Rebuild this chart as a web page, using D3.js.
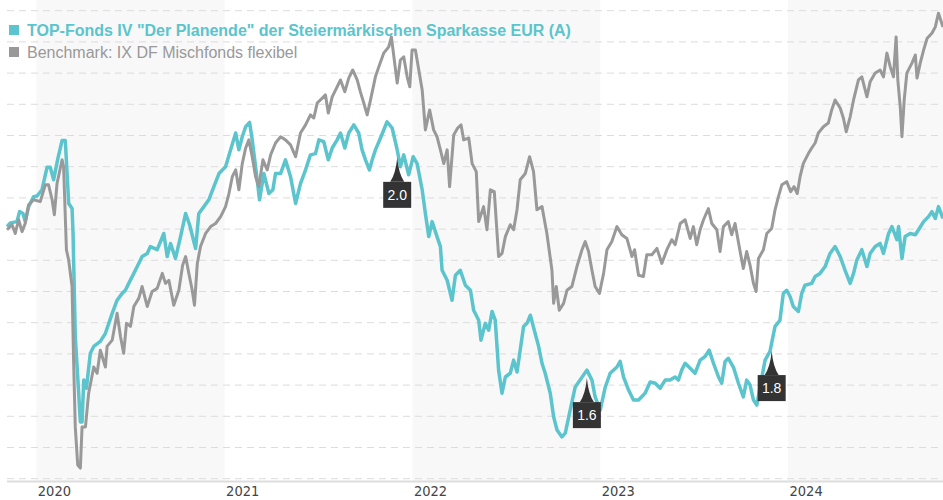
<!DOCTYPE html>
<html>
<head>
<meta charset="utf-8">
<script src="https://cdn.jsdelivr.net/npm/d3@7"></script>
<style>
  body { margin: 0; background: #fff; }
  svg { display: block; font-family: "Liberation Sans", Arial, sans-serif; }
</style>
</head>
<body>
<svg id="chart" width="943" height="500"></svg>
<script>
// ******************** Data ************************
// dates as decimal years, values as an index (no y labels in the original)
var fundT = [2019.844,2019.862,2019.897,2019.911,2019.929,2019.941,2019.959,2019.986,2020.004,2020.030,
  2020.057,2020.074,2020.092,2020.113,2020.137,2020.154,2020.172,2020.190,2020.195,2020.207,
  2020.225,2020.234,2020.243,2020.252,2020.266,2020.287,2020.305,2020.340,2020.367,2020.403,
  2020.429,2020.456,2020.473,2020.491,2020.518,2020.536,2020.562,2020.589,2020.606,2020.642,
  2020.677,2020.695,2020.713,2020.739,2020.766,2020.793,2020.814,2020.846,2020.863,2020.890,
  2020.916,2020.943,2020.970,2021.005,2021.032,2021.059,2021.076,2021.094,2021.112,2021.133,
  2021.147,2021.165,2021.186,2021.209,2021.236,2021.257,2021.271,2021.298,2021.324,2021.351,
  2021.378,2021.404,2021.431,2021.457,2021.484,2021.502,2021.528,2021.552,2021.573,2021.599,
  2021.617,2021.640,2021.661,2021.688,2021.714,2021.732,2021.750,2021.771,2021.786,2021.803,
  2021.830,2021.865,2021.892,2021.919,2021.936,2021.954,2021.980,2022.004,2022.025,2022.052,
  2022.069,2022.087,2022.105,2022.131,2022.149,2022.158,2022.185,2022.211,2022.229,2022.255,
  2022.282,2022.309,2022.326,2022.353,2022.365,2022.388,2022.406,2022.424,2022.441,2022.459,
  2022.477,2022.495,2022.521,2022.539,2022.557,2022.592,2022.610,2022.628,2022.649,2022.672,
  2022.690,2022.707,2022.734,2022.752,2022.770,2022.796,2022.814,2022.840,2022.867,2022.929,
  2022.956,2022.973,2023.000,2023.027,2023.053,2023.089,2023.106,2023.124,2023.151,2023.177,
  2023.204,2023.239,2023.266,2023.293,2023.319,2023.346,2023.372,2023.399,2023.416,2023.434,
  2023.452,2023.479,2023.505,2023.532,2023.559,2023.580,2023.603,2023.630,2023.647,2023.665,
  2023.682,2023.709,2023.736,2023.762,2023.780,2023.798,2023.816,2023.834,2023.851,2023.878,
  2023.904,2023.931,2023.957,2023.975,2023.993,2024.011,2024.028,2024.055,2024.073,2024.090,
  2024.126,2024.144,2024.170,2024.197,2024.223,2024.250,2024.277,2024.303,2024.330,2024.348,
  2024.365,2024.392,2024.419,2024.436,2024.463,2024.489,2024.507,2024.534,2024.552,2024.578,
  2024.587,2024.605,2024.622,2024.649,2024.676,2024.693,2024.720,2024.746,2024.764,2024.782,
  2024.799,2024.823];
var fundV = [100.4,101.0,101.2,102.8,102.5,101.2,103.6,105.2,105.3,106.3,
  109.9,109.9,107.9,111.1,114.2,114.2,104.1,103.3,99.4,82.8,
  73.7,69.1,69.1,75.8,74.5,80.1,81.2,82.0,83.3,86.5,
  88.6,89.7,90.2,91.3,92.9,94.0,95.6,96.1,97.2,96.7,
  99.3,95.6,97.7,95.3,98.8,102.5,100.7,96.9,102.5,103.6,
  104.7,106.8,108.9,110.0,112.7,115.4,112.7,114.8,116.4,117.1,
  114.3,110.0,104.7,108.9,105.7,106.3,108.9,108.9,111.1,108.4,
  104.1,107.3,109.5,111.9,112.1,114.3,114.0,111.1,113.0,114.3,
  115.4,113.0,115.4,116.7,115.4,112.7,111.1,109.5,111.1,112.7,
  114.6,117.2,116.2,112.7,110.0,111.9,108.7,111.6,110.5,106.3,
  102.5,98.8,101.2,98.8,97.2,93.4,91.8,88.6,92.6,93.4,
  91.0,90.2,87.0,85.4,82.2,84.9,83.8,86.8,85.4,77.4,
  73.7,76.3,76.9,79.0,77.1,84.4,84.9,86.2,83.8,81.2,
  78.5,76.9,73.7,69.9,67.8,66.7,67.3,71.0,74.7,77.4,
  75.8,73.1,71.0,74.7,76.9,77.9,78.8,76.3,74.2,72.6,
  72.6,73.7,75.5,75.3,74.5,75.8,75.8,76.3,75.8,77.4,
  78.5,77.7,76.9,79.0,79.6,80.6,78.5,76.3,75.3,78.8,
  79.3,77.9,75.3,73.1,75.8,75.0,72.6,71.8,74.7,79.0,
  80.4,84.4,85.4,89.7,90.2,89.2,87.6,86.8,89.7,91.0,
  91.3,92.4,92.9,94.0,96.1,97.2,95.6,93.4,91.3,92.9,
  95.0,96.7,94.0,96.1,97.2,97.7,96.1,99.3,100.4,98.3,
  100.4,95.3,98.8,99.3,99.1,99.9,101.2,102.0,102.8,101.7,
  103.6,101.7];

var benchT = [2019.844,2019.871,2019.888,2019.906,2019.924,2019.941,2019.959,2019.986,2020.021,2020.048,
  2020.065,2020.084,2020.096,2020.110,2020.137,2020.145,2020.160,2020.172,2020.190,2020.198,
  2020.207,2020.220,2020.234,2020.243,2020.261,2020.278,2020.305,2020.323,2020.340,2020.367,
  2020.376,2020.403,2020.429,2020.447,2020.464,2020.479,2020.500,2020.518,2020.544,2020.562,
  2020.589,2020.615,2020.642,2020.669,2020.686,2020.704,2020.730,2020.757,2020.777,2020.793,
  2020.810,2020.828,2020.840,2020.855,2020.872,2020.899,2020.926,2020.952,2020.979,2021.005,
  2021.023,2021.041,2021.059,2021.076,2021.094,2021.112,2021.129,2021.147,2021.165,2021.182,
  2021.204,2021.227,2021.245,2021.271,2021.298,2021.324,2021.351,2021.378,2021.404,2021.431,
  2021.457,2021.475,2021.493,2021.520,2021.537,2021.552,2021.573,2021.599,2021.617,2021.640,
  2021.661,2021.682,2021.706,2021.723,2021.741,2021.759,2021.777,2021.803,2021.821,2021.847,
  2021.874,2021.888,2021.919,2021.936,2021.954,2021.972,2021.986,2021.998,2022.016,2022.034,
  2022.052,2022.069,2022.092,2022.113,2022.131,2022.149,2022.167,2022.185,2022.198,2022.220,
  2022.241,2022.259,2022.273,2022.300,2022.318,2022.340,2022.353,2022.379,2022.397,2022.415,
  2022.436,2022.459,2022.477,2022.495,2022.521,2022.539,2022.557,2022.574,2022.601,2022.624,
  2022.645,2022.663,2022.690,2022.716,2022.743,2022.752,2022.766,2022.782,2022.805,2022.823,
  2022.849,2022.876,2022.903,2022.920,2022.938,2022.956,2022.973,2022.996,2023.018,2023.036,
  2023.062,2023.089,2023.115,2023.142,2023.169,2023.183,2023.204,2023.230,2023.248,2023.275,
  2023.302,2023.328,2023.355,2023.381,2023.399,2023.426,2023.452,2023.479,2023.496,2023.514,
  2023.532,2023.550,2023.576,2023.594,2023.621,2023.638,2023.656,2023.682,2023.700,2023.718,
  2023.745,2023.762,2023.780,2023.798,2023.816,2023.830,2023.843,2023.869,2023.887,2023.913,
  2023.931,2023.949,2023.967,2023.993,2024.014,2024.032,2024.049,2024.064,2024.081,2024.108,
  2024.126,2024.144,2024.161,2024.188,2024.214,2024.232,2024.250,2024.277,2024.294,2024.309,
  2024.330,2024.348,2024.374,2024.392,2024.419,2024.436,2024.463,2024.489,2024.507,2024.525,
  2024.543,2024.560,2024.574,2024.583,2024.596,2024.605,2024.617,2024.631,2024.658,2024.676,
  2024.685,2024.702,2024.720,2024.739,2024.764,2024.782,2024.799,2024.823];
var benchV = [99.9,100.7,99.3,101.5,99.6,100.9,103.9,104.7,104.4,107.1,
  107.1,104.7,102.3,107.3,111.1,110.0,96.7,95.0,90.8,79.0,
  68.3,62.2,61.7,68.3,68.3,73.7,77.9,76.9,80.6,77.9,
  81.2,82.2,86.5,82.8,80.1,84.9,84.4,87.6,88.9,90.8,
  87.6,90.0,90.5,92.9,91.3,91.8,87.8,90.2,94.2,95.6,
  92.9,90.2,87.8,94.5,97.2,99.3,100.4,100.9,102.0,103.6,
  105.7,108.4,109.5,106.3,110.5,113.0,114.3,111.6,108.4,106.8,
  111.1,109.5,111.9,113.8,114.8,114.3,113.5,111.6,115.4,116.7,
  118.3,117.8,120.2,121.0,121.5,118.6,121.2,122.8,123.9,122.0,
  124.2,125.5,123.9,122.0,120.2,118.3,120.7,124.4,126.0,128.2,
  129.2,130.8,123.4,127.1,127.6,124.4,122.8,128.7,128.7,125.5,
  122.3,115.9,119.1,115.9,114.8,112.7,110.5,112.7,106.8,115.1,
  116.2,116.7,114.3,114.6,110.5,109.2,101.2,103.6,99.9,106.3,
  106.0,95.6,96.1,98.8,100.7,99.9,103.1,107.9,108.9,111.6,
  109.2,103.1,103.6,99.3,93.4,88.1,90.8,87.0,88.1,90.2,
  90.8,94.0,96.7,98.0,96.4,93.4,90.8,89.7,92.9,96.7,
  98.0,100.4,99.1,98.5,95.6,96.7,92.6,92.4,95.9,95.9,
  96.9,94.5,96.7,98.3,97.5,100.9,101.5,98.5,100.4,97.5,
  99.9,101.5,103.3,100.9,99.9,96.4,100.4,101.2,99.1,100.9,
  96.4,93.7,96.4,94.2,91.3,90.0,95.3,96.7,99.3,100.1,
  103.1,105.2,107.1,107.6,106.0,106.8,105.7,108.4,110.5,112.1,
  113.0,113.8,115.4,116.4,117.0,119.1,120.7,119.4,117.8,115.6,
  118.0,120.7,123.9,124.4,121.2,123.6,125.0,125.5,124.4,128.2,
  126.0,124.4,130.8,123.9,119.6,114.8,120.7,125.0,126.6,127.9,
  124.2,126.6,128.7,130.6,131.4,132.4,134.6,132.4];

// distributions
var divT = [2021.919, 2022.929, 2023.913];
var divLabels = ["2.0", "1.6", "1.8"];

var seriesNames = ['TOP-Fonds IV "Der Planende" der Steiermärkischen Sparkasse EUR (A)',
  "Benchmark: IX DF Mischfonds flexibel"];
var seriesColors = ["#5bc4cc", "#999999"];
var gridValues = d3.range(60, 136, 5);
var shadedYears = [2020, 2022, 2024];

// ******************** Setup ************************
function toDate(t) {
  var yr = Math.floor(t);
  var a = new Date(yr, 0, 1), b = new Date(yr + 1, 0, 1);
  return new Date(+a + (t - yr) * (b - a));
}

var fund = fundT.map(function (t, i) { return { date: toDate(t), v: fundV[i] }; });
var bench = benchT.map(function (t, i) { return { date: toDate(t), v: benchV[i] }; });

var W = 943, H = 500;
var plotLeft = 7, plotRight = 943, plotTop = 10.7, plotBottom = 478.7;

var x = d3.scaleTime()
  .domain([toDate(fundT[0]), toDate(fundT[fundT.length - 1])])
  .range([plotLeft, plotRight]);
var y = d3.scaleLinear().domain([60, 135]).range([plotBottom, plotTop]);

var svg = d3.select("#chart");

// shaded year bands
svg.append("g").selectAll("rect")
  .data(shadedYears)
  .enter().append("rect")
  .attr("x", function (d) { return x(new Date(d, 0, 1)); })
  .attr("y", 0)
  .attr("width", function (d) {
    return Math.min(x(new Date(d + 1, 0, 1)), W) - x(new Date(d, 0, 1));
  })
  .attr("height", 481)
  .attr("fill", "#f8f8f8");

// dashed grid
svg.append("g").selectAll("line")
  .data(gridValues)
  .enter().append("line")
  .attr("x1", plotLeft).attr("x2", plotRight)
  .attr("y1", function (d) { return y(d); })
  .attr("y2", function (d) { return y(d); })
  .attr("stroke", "#dcdcdc")
  .attr("stroke-width", 1)
  .attr("stroke-dasharray", "7,5");

// bottom axis line
svg.append("line")
  .attr("x1", plotLeft).attr("x2", W)
  .attr("y1", 481.5).attr("y2", 481.5)
  .attr("stroke", "#dddddd").attr("stroke-width", 2);

// year labels
var xAxis = d3.axisBottom(x)
  .ticks(d3.timeYear.every(1))
  .tickFormat(d3.timeFormat("%Y"))
  .tickSize(0);
var gx = svg.append("g").attr("transform", "translate(0,482)").call(xAxis);
gx.select(".domain").remove();
gx.selectAll("text")
  .attr("text-anchor", "start")
  .attr("dx", 1)
  .attr("y", 14)
  .attr("dy", 0)
  .style("font-family", '"DejaVu Sans Condensed", "DejaVu Sans", sans-serif')
  .style("font-size", "14.5px")
  .style("fill", "#444");

// lines
var line = d3.line()
  .x(function (d) { return x(d.date); })
  .y(function (d) { return y(d.v); });

svg.append("path").datum(fund)
  .attr("d", line)
  .attr("fill", "none")
  .attr("stroke", seriesColors[0])
  .attr("stroke-width", 3.5)
  .attr("stroke-linejoin", "round");

svg.append("path").datum(bench)
  .attr("d", line)
  .attr("fill", "none")
  .attr("stroke", seriesColors[1])
  .attr("stroke-width", 3)
  .attr("stroke-linejoin", "round");

// distribution markers
var bisect = d3.bisector(function (d) { return d.date; }).left;
function fundAt(date) {
  var i = bisect(fund, date);
  var a = fund[Math.max(i - 1, 0)], b = fund[Math.min(i, fund.length - 1)];
  if (a === b) return a.v;
  var k = (date - a.date) / (b.date - a.date);
  return a.v + k * (b.v - a.v);
}

var markers = svg.append("g").selectAll("g")
  .data(divT)
  .enter().append("g")
  .attr("transform", function (d) {
    var dt = toDate(d);
    return "translate(" + x(dt) + "," + (y(fundAt(dt)) + 8) + ")";
  });

markers.append("path")
  .attr("d", "M0,0 Q1.5,16 7,24 L-7,24 Q-1.5,16 0,0 Z")
  .attr("fill", "#333");
markers.append("rect")
  .attr("x", -14).attr("y", 24)
  .attr("width", 28).attr("height", 26)
  .attr("fill", "#333");
markers.append("text")
  .attr("x", 0).attr("y", 42)
  .attr("text-anchor", "middle")
  .style("font-size", "14px")
  .style("fill", "#fff")
  .text(function (d, i) { return divLabels[i]; });

// legend
var legend = svg.append("g").selectAll("g")
  .data(seriesNames)
  .enter().append("g")
  .attr("transform", function (d, i) { return "translate(9," + (36 + i * 22) + ")"; });

legend.append("rect")
  .attr("x", 0).attr("y", -11)
  .attr("width", 10).attr("height", 10)
  .attr("fill", function (d, i) { return seriesColors[i]; });
legend.append("text")
  .attr("x", 18).attr("y", 0)
  .style("font-size", "16px")
  .style("font-weight", function (d, i) { return i === 0 ? "bold" : "normal"; })
  .style("fill", function (d, i) { return seriesColors[i]; })
  .text(function (d) { return d; });
</script>
</body>
</html>
